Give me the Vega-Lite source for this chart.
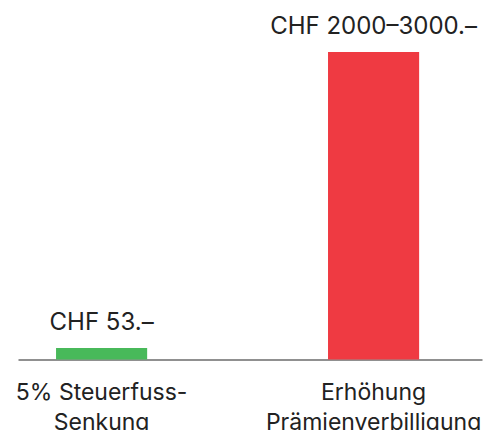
{
  "$schema": "https://vega.github.io/schema/vega-lite/v6.json",
  "autosize": {"type": "none"},
  "width": 464,
  "height": 307.5,
  "padding": {"left": 18, "top": 52, "right": 18, "bottom": 70.5},
  "background": "white",
  "config": {"view": {"stroke": null}, "font": "Inter"},
  "data": {"values": [
    {"category": "5% Steuerfuss-Senkung", "amount": 53, "label": "CHF 53.–", "color": "#48b95a"},
    {"category": "Erhöhung Prämienverbilligung", "amount": 2500, "label": "CHF 2000–3000.–", "color": "#ef3a42"}
  ]},
  "encoding": {
    "x": {
      "field": "category", "type": "nominal", "sort": null,
      "scale": {"paddingInner": 0.665, "paddingOuter": 0.1855, "align": 0.377},
      "axis": {
        "title": null, "ticks": false, "domainColor": "#222222", "domainWidth": 1.2,
        "labelAngle": 0, "labelFontSize": 23, "labelColor": "#222222", "labelPadding": 22,
        "labelLineHeight": 30, "labelBaseline": "top", "labelFont": "Inter", "labelLimit": 0,
        "labelExpr": "datum.value == '5% Steuerfuss-Senkung' ? ['5% Steuerfuss-', 'Senkung'] : ['Erhöhung', 'Prämienverbilligung']"
      }
    },
    "y": {
      "field": "amount", "type": "quantitative",
      "scale": {"type": "pow", "exponent": 0.85, "domain": [0, 2500], "nice": false},
      "axis": null
    }
  },
  "layer": [
    {"mark": {"type": "bar"}, "encoding": {"color": {"field": "color", "type": "nominal", "scale": null}}},
    {"mark": {"type": "text", "baseline": "alphabetic", "dy": -18, "fontSize": 24, "color": "#222222", "font": "Inter"},
     "encoding": {"text": {"field": "label"}}}
  ]
}
